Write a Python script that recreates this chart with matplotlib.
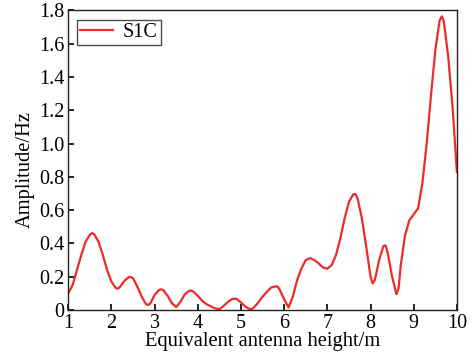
import matplotlib
matplotlib.use("Agg")
import matplotlib.pyplot as plt
import numpy as np

plt.rcParams['font.family'] = ['Liberation Serif', 'DejaVu Serif']

# equivalent antenna height (m) and amplitude (Hz)
height = [1.0, 1.1, 1.2, 1.3, 1.4, 1.5, 1.55, 1.6, 1.7, 1.8, 1.9,
          2.0, 2.1, 2.15, 2.2, 2.3, 2.4, 2.45, 2.5, 2.6, 2.7, 2.8, 2.85, 2.9,
          3.0, 3.1, 3.15, 3.2, 3.3, 3.4, 3.5, 3.6, 3.7, 3.8, 3.85, 3.9,
          4.0, 4.1, 4.2, 4.3, 4.4, 4.5, 4.6, 4.7, 4.8, 4.85, 4.9,
          5.0, 5.1, 5.2, 5.25, 5.3, 5.4, 5.5, 5.6, 5.7, 5.8, 5.85, 5.9,
          6.0, 6.1, 6.2, 6.3, 6.4, 6.5, 6.6, 6.7, 6.8, 6.9,
          7.0, 7.1, 7.2, 7.3, 7.4, 7.5, 7.6, 7.65, 7.7, 7.8, 7.9,
          8.0, 8.05, 8.1, 8.2, 8.3, 8.35, 8.4, 8.5, 8.6, 8.65, 8.7, 8.8, 8.9,
          9.0, 9.1, 9.2, 9.3, 9.4, 9.5, 9.6, 9.65, 9.7, 9.8, 9.9, 10.0]
amplitude = [0.10, 0.15, 0.24, 0.33, 0.41, 0.452, 0.462, 0.455, 0.41, 0.33, 0.24,
             0.17, 0.132, 0.128, 0.14, 0.175, 0.198, 0.198, 0.19, 0.14, 0.08, 0.035, 0.03, 0.04,
             0.09, 0.12, 0.124, 0.12, 0.085, 0.04, 0.018, 0.05, 0.095, 0.115, 0.116, 0.11,
             0.085, 0.055, 0.035, 0.022, 0.01, 0.004, 0.025, 0.05, 0.066, 0.068, 0.066,
             0.045, 0.02, 0.006, 0.005, 0.015, 0.045, 0.08, 0.11, 0.135, 0.142, 0.14, 0.12,
             0.065, 0.015, 0.08, 0.18, 0.25, 0.30, 0.312, 0.30, 0.28, 0.255,
             0.248, 0.27, 0.33, 0.43, 0.55, 0.65, 0.695, 0.697, 0.67, 0.55, 0.38,
             0.20, 0.16, 0.18, 0.30, 0.385, 0.388, 0.34, 0.20, 0.095, 0.13, 0.27, 0.45, 0.54,
             0.575, 0.61, 0.76, 1.0, 1.29, 1.56, 1.74, 1.765, 1.73, 1.52, 1.22, 0.83]

fig = plt.figure(figsize=(4.72, 3.57), dpi=100)
ax = fig.add_axes([0.1447, 0.1317, 0.8233, 0.8389])

ax.plot(height, amplitude, color='#ee2a2a', lw=1.6, label='S1C')

ax.set_xlim(1, 10)
ax.set_ylim(0, 1.8)
ax.set_xticks(range(1, 11))
ax.set_yticks(np.arange(0, 1.81, 0.2))
ax.set_yticklabels(['0', '0.2', '0.4', '0.6', '0.8', '1.0', '1.2', '1.4', '1.6', '1.8'])
ax.tick_params(direction='in', length=4, width=1.2, labelsize=14.5, pad=3,
               top=False, right=False)
for s in ax.spines.values():
    s.set_linewidth(1.0)
    s.set_color('#222222')

ax.set_xlabel('Equivalent antenna height/m', fontsize=14.8, labelpad=-1)
ax.set_ylabel('Amplitude/Hz', fontsize=14.8)
ax.yaxis.set_label_coords(-0.085, 0.47)

leg = ax.legend(loc='upper left', fontsize=14.5, frameon=True, fancybox=False,
                edgecolor='#222222', handlelength=1.6, borderpad=0.15,
                handletextpad=0.5, borderaxespad=0.45)
leg.get_frame().set_linewidth(1.0)

fig.savefig('out.png', dpi=100)
